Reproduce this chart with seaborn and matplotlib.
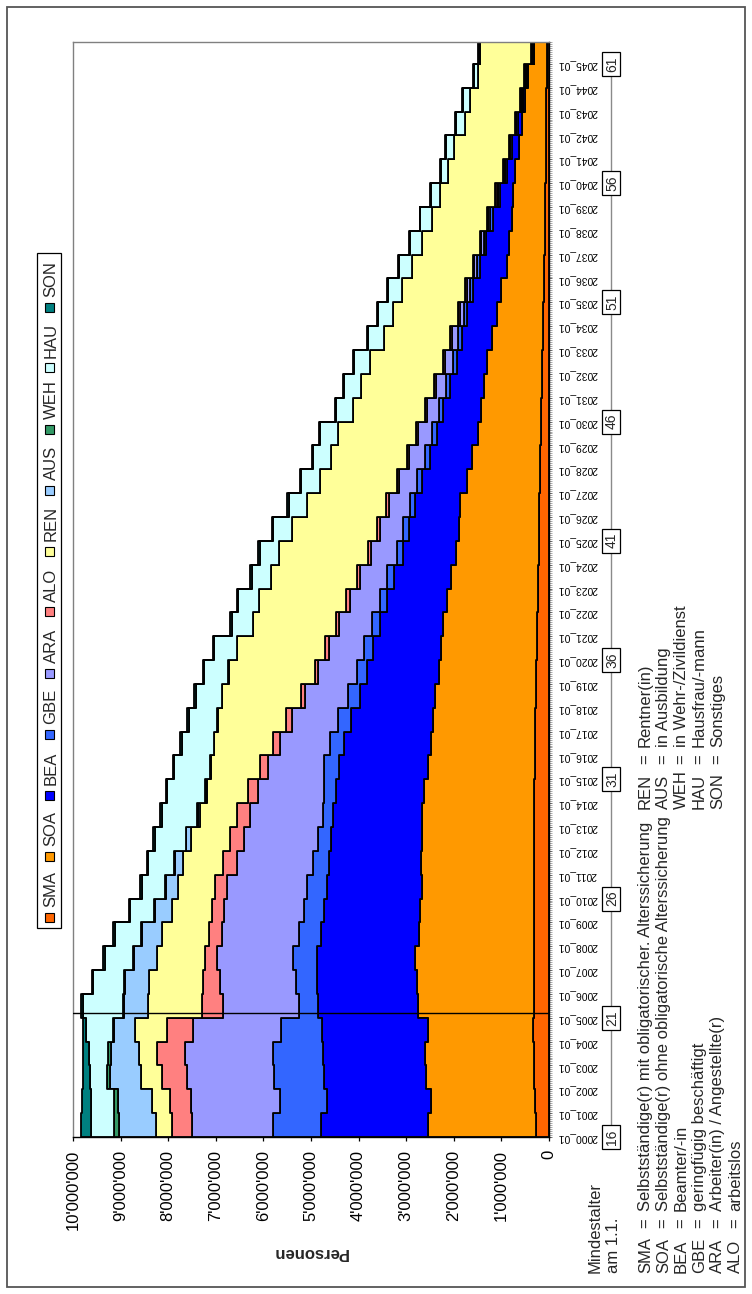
import numpy as np
import matplotlib
matplotlib.use("Agg")
import matplotlib.pyplot as plt
import seaborn as sns
from matplotlib.patches import Rectangle
from matplotlib.lines import Line2D
from matplotlib import transforms
from matplotlib.ticker import FixedLocator, MultipleLocator, FuncFormatter

# ---------------- data (values in millions of persons, value at January of each year) ----------------
years = list(range(2000, 2046))
month_labels = [f"{y}_01" for y in years]
series_names = ["SMA", "SOA", "BEA", "GBE", "ARA", "ALO", "REN", "AUS", "WEH", "HAU", "SON"]
series_colors = ["#FF6600", "#FF9900", "#0000FF", "#3366FF", "#9999FF", "#FF8080",
                 "#FFFF99", "#99CCFF", "#339966", "#CCFFFF", "#008080"]

SMA = [0.27, 0.29, 0.31, 0.32, 0.33, 0.32, 0.32, 0.32, 0.32, 0.32,
       0.32, 0.32, 0.31, 0.31, 0.31, 0.30, 0.30, 0.29, 0.28, 0.27,
       0.26, 0.25, 0.24, 0.23, 0.22, 0.21, 0.20, 0.19, 0.18, 0.17,
       0.16, 0.15, 0.14, 0.13, 0.12, 0.11, 0.10, 0.09, 0.08, 0.08,
       0.07, 0.07, 0.06, 0.06, 0.05, 0.05]
SOA = [2.27, 2.19, 2.27, 2.28, 2.22, 2.43, 2.46, 2.50, 2.42, 2.38,
       2.35, 2.36, 2.35, 2.36, 2.31, 2.25, 2.18, 2.14, 2.11, 2.04,
       2.01, 1.98, 1.91, 1.83, 1.74, 1.69, 1.66, 1.54, 1.44, 1.33,
       1.26, 1.21, 1.16, 1.07, 0.98, 0.89, 0.79, 0.75, 0.70, 0.67,
       0.64, 0.57, 0.51, 0.44, 0.39, 0.26]
BEA = [2.24, 2.18, 2.14, 2.15, 2.21, 2.11, 2.10, 2.06, 2.06, 2.02,
       2.00, 1.94, 1.92, 1.87, 1.86, 1.87, 1.82, 1.72, 1.59, 1.52,
       1.43, 1.32, 1.25, 1.19, 1.11, 1.05, 0.96, 0.93, 0.88, 0.86,
       0.80, 0.72, 0.64, 0.63, 0.62, 0.60, 0.57, 0.48, 0.40, 0.28,
       0.18, 0.14, 0.09, 0.04, 0.02, 0.01]
GBE = [1.02, 1.00, 1.06, 1.05, 0.87, 0.40, 0.44, 0.49, 0.45, 0.43,
       0.42, 0.33, 0.27, 0.21, 0.24, 0.30, 0.30, 0.28, 0.24, 0.21,
       0.18, 0.17, 0.16, 0.15, 0.13, 0.12, 0.11, 0.11, 0.10, 0.10,
       0.09, 0.09, 0.08, 0.08, 0.07, 0.06, 0.06, 0.05, 0.05, 0.04,
       0.04, 0.03, 0.03, 0.02, 0.02, 0.01]
ARA = [1.71, 1.86, 1.82, 1.84, 1.84, 1.58, 1.60, 1.61, 1.63, 1.67,
       1.68, 1.60, 1.55, 1.53, 1.39, 1.18, 1.05, 0.97, 0.90, 0.81,
       0.75, 0.69, 0.63, 0.57, 0.54, 0.49, 0.43, 0.38, 0.34, 0.29,
       0.25, 0.21, 0.17, 0.13, 0.09, 0.06, 0.05, 0.05, 0.05, 0.03,
       0.01, 0.01, 0.01, 0.03, 0.03, 0.02]
ALO = [0.42, 0.44, 0.52, 0.60, 0.56, 0.46, 0.34, 0.25, 0.26, 0.25,
       0.25, 0.30, 0.30, 0.28, 0.22, 0.17, 0.15, 0.12, 0.10, 0.07,
       0.07, 0.07, 0.07, 0.06, 0.06, 0.06, 0.06, 0.05, 0.05, 0.05,
       0.04, 0.04, 0.04, 0.04, 0.04, 0.04, 0.03, 0.03, 0.03, 0.03,
       0.02, 0.02, 0.01, 0.02, 0.02, 0.02]
REN = [0.32, 0.37, 0.45, 0.38, 0.67, 1.12, 1.14, 1.00, 0.99, 0.86,
       0.78, 0.83, 0.82, 0.77, 0.85, 1.03, 1.23, 1.44, 1.64, 1.81,
       1.85, 1.74, 1.83, 1.80, 1.88, 1.77, 1.66, 1.62, 1.59, 1.64,
       1.51, 1.53, 1.53, 1.39, 1.35, 1.32, 1.28, 1.22, 1.15, 1.15,
       1.17, 1.15, 1.05, 1.04, 0.97, 1.08]
AUS = [0.79, 0.72, 0.65, 0.59, 0.44, 0.51, 0.50, 0.48, 0.42, 0.35,
       0.25, 0.18, 0.10, 0.05, 0.03, 0.02, 0.01, 0.01, 0.01, 0.01,
       0.00, 0.00, 0.00, 0.00, 0.00, 0.00, 0.00, 0.00, 0.00, 0.00,
       0.00, 0.00, 0.00, 0.00, 0.00, 0.00, 0.00, 0.00, 0.00, 0.00,
       0.00, 0.00, 0.00, 0.00, 0.00, 0.00]
WEH = [0.09, 0.08, 0.07, 0.06, 0.03, 0.02, 0.02, 0.02, 0.02, 0.02,
       0.01, 0.01, 0.01, 0.01, 0.01, 0.00, 0.00, 0.00, 0.00, 0.00,
       0.00, 0.00, 0.00, 0.00, 0.00, 0.00, 0.00, 0.00, 0.00, 0.00,
       0.00, 0.00, 0.00, 0.00, 0.00, 0.00, 0.00, 0.00, 0.00, 0.00,
       0.00, 0.00, 0.00, 0.00, 0.00, 0.00]
HAU = [0.50, 0.50, 0.36, 0.40, 0.55, 0.85, 0.65, 0.60, 0.55, 0.50,
       0.50, 0.55, 0.65, 0.75, 0.80, 0.75, 0.68, 0.60, 0.55, 0.50,
       0.48, 0.45, 0.44, 0.42, 0.40, 0.40, 0.39, 0.38, 0.37, 0.37,
       0.36, 0.35, 0.34, 0.33, 0.32, 0.30, 0.28, 0.26, 0.24, 0.20,
       0.14, 0.17, 0.19, 0.16, 0.08, 0.03]
SON = [0.20, 0.18, 0.15, 0.12, 0.08, 0.04, 0.03, 0.03, 0.03, 0.03,
       0.03, 0.03, 0.03, 0.03, 0.03, 0.03, 0.03, 0.03, 0.03, 0.03,
       0.03, 0.03, 0.03, 0.03, 0.03, 0.03, 0.03, 0.03, 0.03, 0.03,
       0.03, 0.03, 0.02, 0.02, 0.02, 0.02, 0.02, 0.02, 0.02, 0.02,
       0.02, 0.02, 0.02, 0.02, 0.01, 0.01]
series_values = [SMA, SOA, BEA, GBE, ARA, ALO, REN, AUS, WEH, HAU, SON]

min_age_labels = ["16", "21", "26", "31", "36", "41", "46", "51", "56", "61"]
min_age_years = [2000, 2005, 2010, 2015, 2020, 2025, 2030, 2035, 2040, 2045]
marker_month = 62.5   # vertical reference line (spring 2005)

footnotes_left = [("SMA", "Selbstständige(r) mit obligatorischer. Alterssicherung"),
                  ("SOA", "Selbstständige(r) ohne obligatorische Alterssicherung"),
                  ("BEA", "Beamter/-in"),
                  ("GBE", "geringfügig beschäftigt"),
                  ("ARA", "Arbeiter(in) / Angestellte(r)"),
                  ("ALO", "arbeitslos")]
footnotes_right = [("REN", "Rentner(in)"),
                   ("AUS", "in Ausbildung"),
                   ("WEH", "in Wehr-/Zivildienst"),
                   ("HAU", "Hausfrau/-mann"),
                   ("SON", "Sonstiges")]

# ---------------- style ----------------
sns.set_theme(style="white")
plt.rcParams['font.family'] = ['Liberation Sans', 'DejaVu Sans']
plt.rcParams['axes.linewidth'] = 1.0

W, H = 752, 1294
fig = plt.figure(figsize=(W / 100, H / 100), dpi=100)
fig.patch.set_facecolor("white")


def fx(px):
    return px / W


def fy(py):
    return 1 - py / H


PL, PR, PT, PB = 73, 549, 42, 1137
ax = fig.add_axes([fx(PL), fy(PB), fx(PR) - fx(PL), fy(PT) - fy(PB)])
ax.set_facecolor("white")

# month index of each January value, last one held to end of 2045
month_pos = np.array([12 * (y - 2000) for y in years] + [551])
base = np.zeros(len(month_pos))
for name, vals, col in zip(series_names, series_values, series_colors):
    v = np.array(vals + [vals[-1]], dtype=float)
    top = base + v
    ax.fill_betweenx(month_pos, base, top, step="post", facecolor=col,
                     edgecolor="black", linewidth=1.3, zorder=2)
    base = top

ax.set_xlim(10, 0)
ax.set_ylim(0, 551)

# value axis (bottom)
ax.xaxis.set_major_locator(FixedLocator(np.arange(0, 11)))
ax.xaxis.set_major_formatter(FuncFormatter(lambda v, p: f"{int(round(v * 1e6)):,}".replace(",", "'")))
ax.tick_params(axis="x", which="major", direction="out", length=3, width=0.9, pad=6.5,
               labelsize=12, labelrotation=90, bottom=True, top=False, colors="black")

# category axis (right)
ax.yaxis.tick_right()
ax.set_yticks([12 * (y - 2000) for y in years])
ax.set_yticklabels(month_labels, rotation=180, fontsize=7.4)
ax.yaxis.set_minor_locator(MultipleLocator(1))
ax.tick_params(axis="y", which="both", direction="out", length=2.4, width=0.4, pad=3.5,
               right=True, left=False, colors="black")
ax.tick_params(axis="y", which="minor", color="#666666")

for side, c in [("left", "#808080"), ("top", "#808080"), ("right", "black"), ("bottom", "black")]:
    ax.spines[side].set_color(c)
    ax.spines[side].set_linewidth(1.0)

ax.axhline(marker_month, color="black", lw=1.0, zorder=5)

# axis title
fig.text(fx(310), fy(1252), "Personen", rotation=180, ha="center", va="center",
         fontsize=12, fontweight="bold")

# "Mindestalter" secondary scale with boxed ages
trans = transforms.blended_transform_factory(fig.transFigure, ax.transData)
age_pos = [12 * (y - 2000) for y in min_age_years]
fig.add_artist(Line2D([fx(611), fx(611)], [age_pos[0], age_pos[-1]], transform=trans,
                      color="#8a8a8a", lw=1.0, zorder=1))
box_h = 24 * 551 / (PB - PT)
for lab, m in zip(min_age_labels, age_pos):
    fig.add_artist(Rectangle((fx(602), m - box_h / 2), 18 / W, box_h, transform=trans,
                             facecolor="white", edgecolor="black", lw=0.9, zorder=3))
    fig.text(fx(612), m, lab, transform=trans, rotation=90, ha="center", va="center",
             fontsize=10, zorder=4)

fig.text(fx(600), fy(1273), "Mindestalter", rotation=90, rotation_mode="anchor",
         ha="left", va="baseline", fontsize=12)
fig.text(fx(618), fy(1273), "am 1.1.", rotation=90, rotation_mode="anchor",
         ha="left", va="baseline", fontsize=12)

# footnotes
line_x = [650, 668, 686, 704, 722, 740]
for (ab, desc), lx in zip(footnotes_left, line_x):
    for txt, sy in [(ab, 1273), ("=", 1228), (desc, 1211)]:
        fig.text(fx(lx), fy(sy), txt, rotation=90, rotation_mode="anchor",
                 ha="left", va="baseline", fontsize=12)
for (ab, desc), lx in zip(footnotes_right, line_x):
    for txt, sy in [(ab, 809), ("=", 764), (desc, 747)]:
        fig.text(fx(lx), fy(sy), txt, rotation=90, rotation_mode="anchor",
                 ha="left", va="baseline", fontsize=12)

# legend (drawn rotated, bottom to top)
fig.add_artist(Rectangle((fx(37), fy(928)), 24 / W, (928 - 253) / H, transform=fig.transFigure,
                         facecolor="white", edgecolor="black", lw=0.9, zorder=2))
for i, (name, col) in enumerate(zip(series_names, series_colors)):
    my = 917 - 61 * i
    fig.add_artist(Rectangle((fx(44.5), fy(my + 4.5)), 9 / W, 9 / H, transform=fig.transFigure,
                             facecolor=col, edgecolor="black", lw=0.8, zorder=3))
    fig.text(fx(55.5), fy(my - 10), name, rotation=90, rotation_mode="anchor",
             ha="left", va="baseline", fontsize=12, zorder=4)

# outer chart border
fig.add_artist(Rectangle((fx(7), fy(1287)), (745 - 7) / W, (1287 - 7) / H, transform=fig.transFigure,
                         fill=False, edgecolor="#555555", lw=1.3, zorder=0))

fig.savefig("out.png", dpi=100, facecolor="white")
